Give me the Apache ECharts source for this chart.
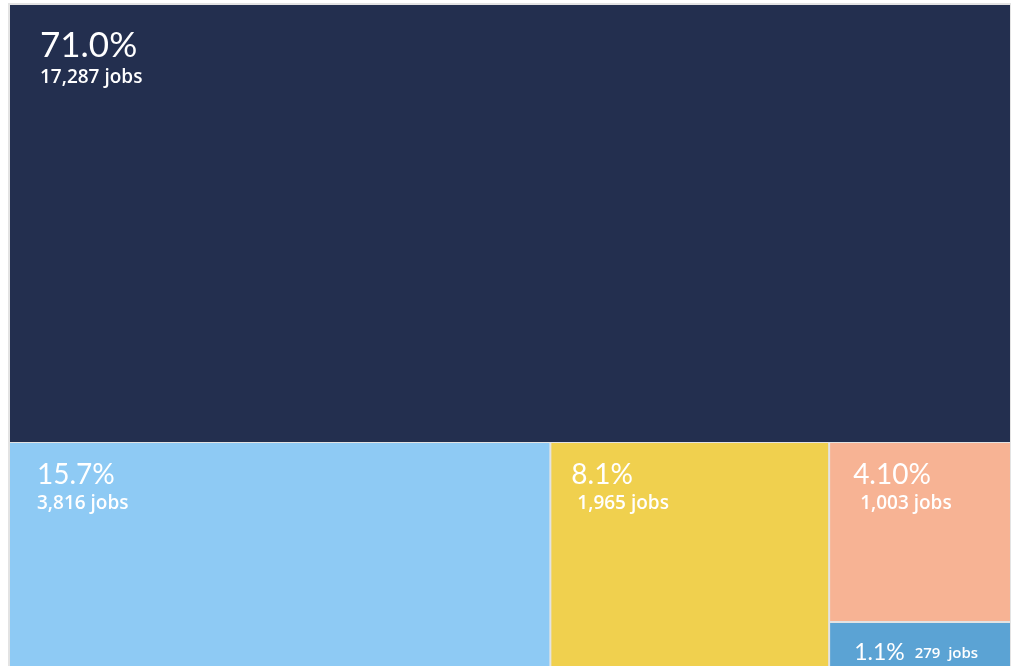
<!DOCTYPE html>
<html>
<head>
<meta charset="utf-8">
<script src="https://cdn.jsdelivr.net/npm/echarts@6/dist/echarts.min.js"></script>
<style>
  html, body { margin: 0; padding: 0; background: #fff; }
  #chart { width: 1011px; height: 666px; }
</style>
</head>
<body>
<div id="chart"></div>
<script>
// values
const topJobs = [17287]
const topShares = ['71.0%']
const restJobs = [3816, 1965, 1003, 279]
const restShares = ['15.7%', '8.1%', '4.10%', '1.1%']

const palette = ['#232f4f', '#8ecaf4', '#f0d04e', '#f7b394', '#5ba3d4']
const gapColor = '#e3e3e3'
const pctFont = 'Lato, "Open Sans", sans-serif'
const jobsFont = '"Open Sans", Lato, sans-serif'

const fmt = n => n.toLocaleString('en-US')

// label look per box (same order as the data)
const labelLooks = [
  {pct: 35, jobs: 19, pos: [25, 17], indent: 0, gap: 9},
  {pct: 28, jobs: 19, pos: [22, 12], indent: 0, gap: 8},
  {pct: 28, jobs: 19, pos: [15, 12], indent: 6, gap: 8},
  {pct: 28, jobs: 19, pos: [18, 12], indent: 7, gap: 8},
  {pct: 23, jobs: 15, pos: [19, 12], indent: 0, oneLine: true}
]

const makeItem = (jobs, share, idx) => {
  const look = labelLooks[idx]
  return {
    name: share,
    value: jobs,
    itemStyle: { color: palette[idx] },
    label: {
      show: true,
      position: look.pos,
      formatter: look.oneLine
        ? `{p|${share}}{j|${fmt(jobs)}  jobs}`
        : `{p|${share}}\n{j|${fmt(jobs)} jobs}`,
      rich: {
        p: { fontSize: look.pct, color: '#fff', fontFamily: pctFont, lineHeight: look.pct + 2 },
        j: {
          fontSize: look.jobs, color: '#fff', fontFamily: jobsFont, fontWeight: 600,
          lineHeight: look.jobs + (look.gap || 4),
          padding: look.oneLine ? [2, 0, 0, 10] : [0, 0, 0, look.indent]
        }
      }
    }
  }
}

const base = {
  type: 'treemap',
  roam: false,
  nodeClick: false,
  breadcrumb: { show: false },
  silent: true,
  itemStyle: { borderColor: gapColor, borderWidth: 1, gapWidth: 0 },
  label: { show: true }
}

const chart = echarts.init(document.getElementById('chart'))
chart.setOption({
  backgroundColor: '#fff',
  tooltip: { show: false },
  series: [
    {
      ...base,
      left: 8, top: 3, width: 1004, height: 441,
      data: topJobs.map((v, i) => makeItem(v, topShares[i], i))
    },
    {
      ...base,
      left: 8, top: 441, width: 1004, height: 232,
      data: restJobs.map((v, i) => makeItem(v, restShares[i], i + 1))
    }
  ]
})
</script>
</body>
</html>
